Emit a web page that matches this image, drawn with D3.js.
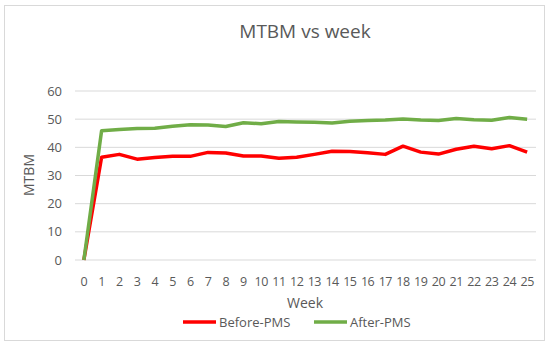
<!DOCTYPE html>
<html>
<head>
<meta charset="utf-8">
<script src="https://cdn.jsdelivr.net/npm/d3@7"></script>
<style>
  body { margin: 0; background: #fff; }
  text { font-family: "Open Sans", "Liberation Sans", sans-serif; fill: #595959; }
</style>
</head>
<body>
<div id="chart"></div>
<script>
const weeks = d3.range(0, 26);
const beforePMS = [0, 36.5, 37.5, 35.8, 36.4, 36.8, 36.8, 38.2, 38.0, 36.9, 36.9, 36.1, 36.5,
  37.5, 38.6, 38.5, 38.1, 37.5, 40.4, 38.3, 37.6, 39.3, 40.4, 39.5, 40.6, 38.3];
const afterPMS = [0, 45.9, 46.3, 46.7, 46.8, 47.5, 48.0, 47.9, 47.4, 48.7, 48.4, 49.2, 49.0,
  48.9, 48.6, 49.3, 49.5, 49.7, 50.1, 49.7, 49.5, 50.2, 49.8, 49.6, 50.6, 50.0];
const yTicks = [0, 10, 20, 30, 40, 50, 60];
const seriesNames = ["Before-PMS", "After-PMS"];
const colors = ["#ff0000", "#70ad47"];

const width = 550, height = 345;
const svg = d3.select("#chart").append("svg")
  .attr("width", width).attr("height", height);

// chart frame
svg.append("rect")
  .attr("x", 4.5).attr("y", 5.5).attr("width", 540).attr("height", 335)
  .attr("fill", "#fff").attr("stroke", "#d9d9d9");

const x = d3.scalePoint().domain(weeks).range([75, 536]).padding(0.5);
const y = d3.scaleLinear().domain([0, 60]).range([260, 91]);

// gridlines
svg.append("g").selectAll("line").data(yTicks).join("line")
  .attr("x1", 75).attr("x2", 536)
  .attr("y1", d => y(d)).attr("y2", d => y(d))
  .attr("stroke", "#d9d9d9").attr("stroke-width", 1);

// y axis labels
svg.append("g").selectAll("text").data(yTicks).join("text")
  .attr("x", 62).attr("y", d => y(d)).attr("dy", "0.35em")
  .attr("text-anchor", "end").attr("font-size", 13)
  .text(d => d);

// x axis labels
svg.append("g").selectAll("text").data(weeks).join("text")
  .attr("x", d => x(d)).attr("y", 282).attr("dy", "0.35em")
  .attr("text-anchor", "middle").attr("font-size", 12.5)
  .attr("letter-spacing", -0.5)
  .text(d => d);

// titles
svg.append("text").attr("x", 305).attr("y", 38)
  .attr("text-anchor", "middle").attr("font-size", 19).text("MTBM vs week");
svg.append("text").attr("x", 305).attr("y", 308)
  .attr("text-anchor", "middle").attr("font-size", 14).text("Week");
svg.append("text")
  .attr("transform", "translate(34,175) rotate(-90)")
  .attr("text-anchor", "middle").attr("font-size", 14).text("MTBM");

// lines
const line = d3.line().x((d, i) => x(weeks[i])).y(d => y(d));
[beforePMS, afterPMS].forEach((s, i) => {
  svg.append("path").datum(s)
    .attr("fill", "none").attr("stroke", colors[i])
    .attr("stroke-width", 3.5).attr("stroke-linejoin", "round")
    .attr("d", line);
});

// legend
const legendX = [183, 314];
seriesNames.forEach((name, i) => {
  const g = svg.append("g").attr("transform", `translate(${legendX[i]},322)`);
  g.append("line").attr("x1", 0).attr("x2", 33)
    .attr("stroke", colors[i]).attr("stroke-width", 3.5);
  g.append("text").attr("x", 36).attr("dy", "0.35em")
    .attr("font-size", 13).text(name);
});
</script>
</body>
</html>
